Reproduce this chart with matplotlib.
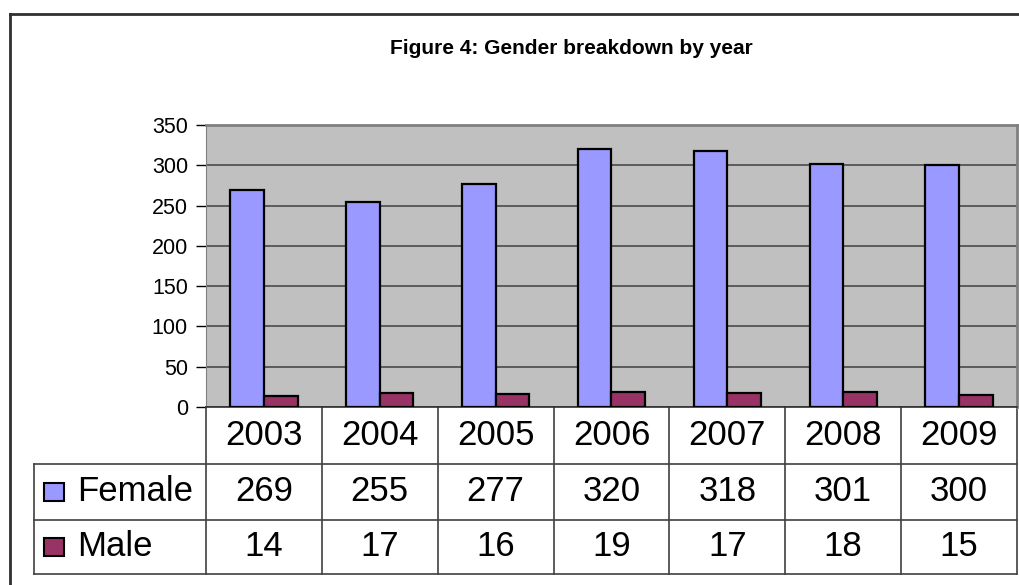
import matplotlib.pyplot as plt
from matplotlib.patches import Rectangle
from matplotlib.lines import Line2D
import matplotlib.transforms as mtransforms

plt.rcParams['font.family'] = ['Liberation Sans', 'DejaVu Sans']

years = ['2003', '2004', '2005', '2006', '2007', '2008', '2009']
female = [269, 255, 277, 320, 318, 301, 300]
male = [14, 17, 16, 19, 17, 18, 15]
series_names = ['Female', 'Male']
series_colors = ['#9999FF', '#993366']

W, H = 1020, 585
fig = plt.figure(figsize=(W / 100, H / 100), dpi=100)

# plot area in pixels: x 206..1017, y 125..407
ax = fig.add_axes([206 / W, 1 - 407 / H, (1017 - 206) / W, (407 - 125) / H])
ax.set_facecolor('#C0C0C0')

x = list(range(len(years)))
bw = 0.29
ax.bar([i - bw / 2 for i in x], female, bw, color=series_colors[0],
       edgecolor='black', linewidth=1.6, zorder=3)
ax.bar([i + bw / 2 for i in x], male, bw, color=series_colors[1],
       edgecolor='black', linewidth=1.6, zorder=3)

ax.set_xlim(-0.5, len(years) - 0.5)
ax.set_ylim(0, 350)
ax.set_yticks(range(0, 351, 50))
ax.tick_params(axis='y', labelsize=15.5, length=7, width=1, direction='out', pad=6)
ax.set_xticks([])
ax.yaxis.grid(True, color='#4a4a4a', linewidth=1.2, zorder=0)
ax.set_axisbelow(True)
for s in ['top', 'right']:
    ax.spines[s].set_color('#808080')
    ax.spines[s].set_linewidth(2)
ax.spines['left'].set_color('#808080')
ax.spines['bottom'].set_color('#303030')
ax.spines['bottom'].set_linewidth(1.2)

# data table under the plot (x in data units, y in axes units)
tr = mtransforms.blended_transform_factory(ax.transData, ax.transAxes)
col_w = (1017 - 206) / len(years)
left_x = -0.5 - (206 - 34) / col_w
row_h = 56.5 / (407 - 125)
rows_y = [0, -row_h, -2 * row_h, -3 * row_h + 0.01]
line_kw = dict(transform=tr, clip_on=False, color='#404040', linewidth=1.2)

for k in range(len(years) + 1):
    ax.add_line(Line2D([k - 0.5, k - 0.5], [0, rows_y[3]], **line_kw))
for yy in rows_y[1:]:
    ax.add_line(Line2D([left_x, len(years) - 0.5], [yy, yy], **line_kw))
ax.add_line(Line2D([left_x, left_x], [rows_y[1], rows_y[3]], **line_kw))

for i, yr in enumerate(years):
    ax.text(i, (rows_y[0] + rows_y[1]) / 2, yr, transform=tr, ha='center',
            va='center', fontsize=25, clip_on=False)
    ax.text(i, (rows_y[1] + rows_y[2]) / 2, str(female[i]), transform=tr,
            ha='center', va='center', fontsize=25, clip_on=False)
    ax.text(i, (rows_y[2] + rows_y[3]) / 2, str(male[i]), transform=tr,
            ha='center', va='center', fontsize=25, clip_on=False)

# legend keys inside the table
for j, (name, col) in enumerate(zip(series_names, series_colors)):
    yc = (rows_y[j + 1] + rows_y[j + 2]) / 2
    kx = left_x + 10 / col_w
    kw = 20 / col_w
    kh = 18 / (407 - 125)
    ax.add_patch(Rectangle((kx, yc - kh / 2), kw, kh, transform=tr,
                           facecolor=col, edgecolor='black', linewidth=1.5,
                           clip_on=False))
    ax.text(left_x + 43 / col_w, yc, name, transform=tr, ha='left',
            va='center', fontsize=25, clip_on=False)

# outer chart frame
fig.add_artist(Line2D([10 / W, 1.0], [1 - 14 / H, 1 - 14 / H],
                      color='#303030', linewidth=2))
fig.add_artist(Line2D([10 / W, 10 / W], [0, 1 - 14 / H],
                      color='#303030', linewidth=2))

fig.text(571 / W, 1 - 48 / H, 'Figure 4: Gender breakdown by year',
         ha='center', va='center', fontsize=15, fontweight='bold')

fig.savefig('out.png', dpi=100)
